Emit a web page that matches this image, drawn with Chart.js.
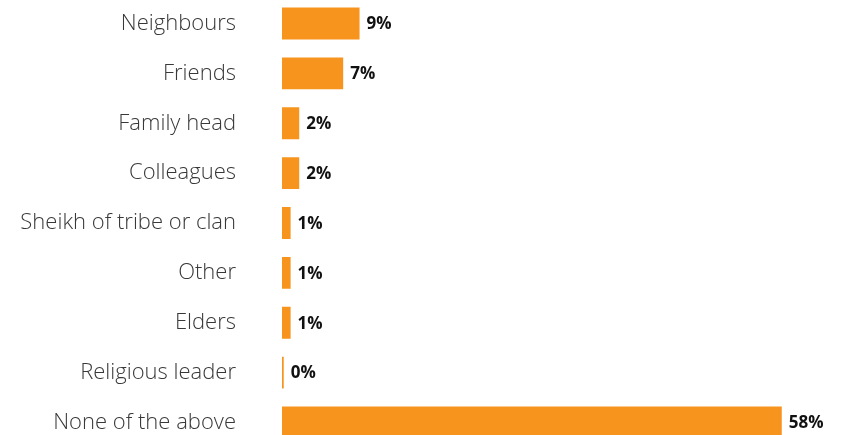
<!DOCTYPE html>
<html><head><meta charset="utf-8">
<script src="https://cdn.jsdelivr.net/npm/chart.js@4/dist/chart.umd.min.js"></script>
<style>
html,body{margin:0;padding:0;background:#fff;overflow:hidden;width:841px;height:435px;}
#c{position:absolute;left:0;top:-2px;}
</style></head>
<body><canvas id="c" width="841" height="450" style="width:841px;height:450px"></canvas>
<script>
const categories = ["Neighbours","Friends","Family head","Colleagues","Sheikh of tribe or clan","Other","Elders","Religious leader","None of the above"];
const values = [9.0, 7.1, 2.0, 2.0, 1.0, 1.0, 1.0, 0.2, 58.0];
const valueLabels = ["9%","7%","2%","2%","1%","1%","1%","0%","58%"];

const labelPlugin = {
  id: 'barLabels',
  afterDatasetsDraw(chart) {
    const ctx = chart.ctx;
    const meta = chart.getDatasetMeta(0);
    ctx.save();
    ctx.font = 'bold 17px "Open Sans", sans-serif';
    ctx.fillStyle = '#111';
    ctx.textBaseline = 'middle';
    ctx.textAlign = 'left';
    meta.data.forEach((bar, i) => {
      ctx.fillText(valueLabels[i], bar.x + 7, bar.y + 1);
    });
    ctx.restore();
  }
};

new Chart(document.getElementById('c'), {
  type: 'bar',
  data: {
    labels: categories,
    datasets: [{
      data: values,
      backgroundColor: '#F7941D',
      barPercentage: 0.64,
      categoryPercentage: 1.0
    }]
  },
  options: {
    indexAxis: 'y',
    responsive: false,
    devicePixelRatio: 1,
    animation: false,
    layout: { padding: { left: 0, right: 42, top: 0, bottom: 0 } },
    plugins: { legend: { display: false }, tooltip: { enabled: false } },
    scales: {
      x: { display: false, min: 0, max: 60 },
      y: {
        border: { display: false },
        grid: { display: true, drawOnChartArea: false, drawTicks: true, tickLength: 46, color: 'rgba(0,0,0,0)' },
        ticks: { padding: 0, color: '#383838', font: { family: '"Open Sans", sans-serif', size: 22, weight: 300, lineHeight: 0.05 } },
        afterFit(scale) { scale.width = 282; }
      }
    }
  },
  plugins: [labelPlugin]
});
</script></body></html>
